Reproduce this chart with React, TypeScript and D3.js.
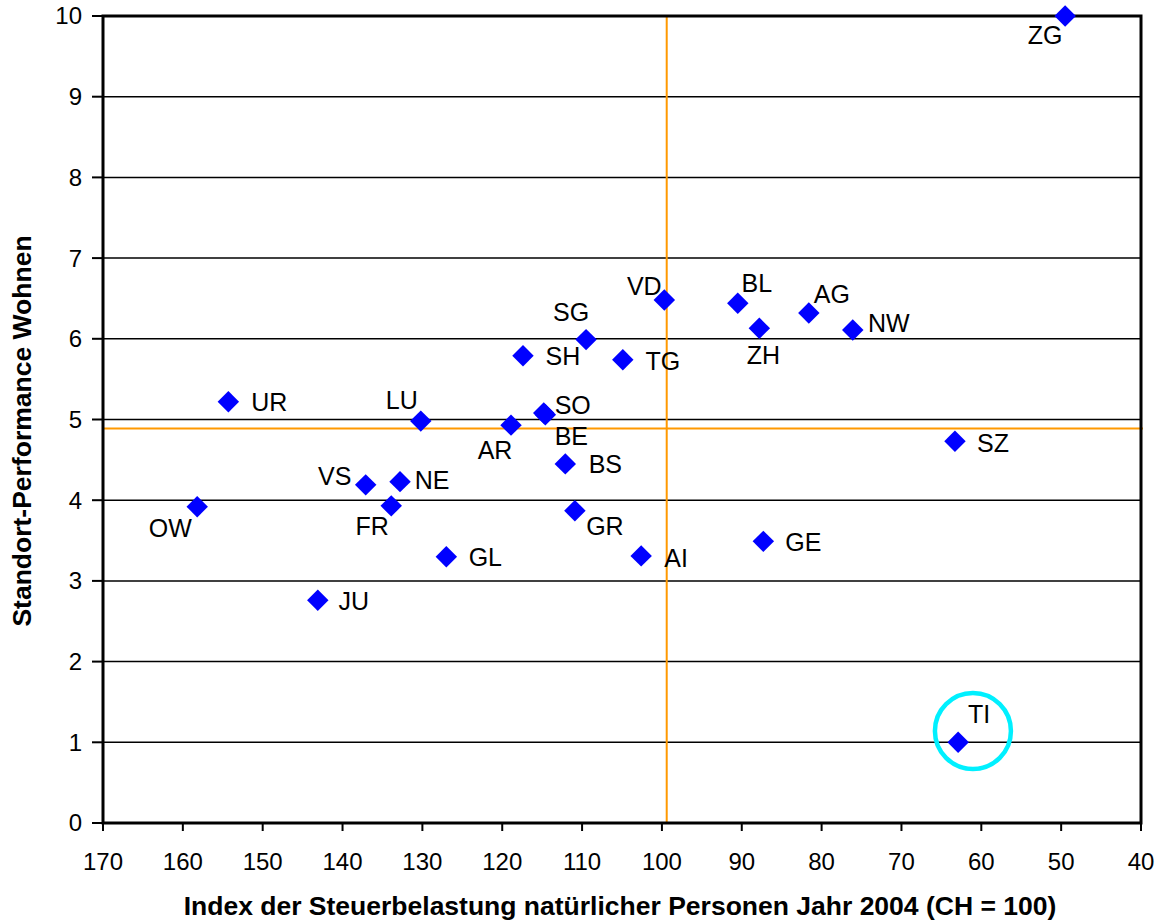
import React from "react";
import * as d3 from "d3";

const cantons = ["ZG","TI","SZ","NW","AG","BL","ZH","GE","VD","TG","AI","SG","SH","SO","BE","AR","BS","GR","LU","UR","VS","NE","FR","OW","GL","JU"];
const taxIndex = [49.5,62.9,63.3,76.1,81.6,90.5,87.8,87.3,99.7,104.9,102.6,109.5,117.4,114.8,114.6,118.9,112.1,110.9,130.2,154.3,137.1,132.8,133.9,158.2,127.0,143.1];
const performance = [10.0,1.0,4.73,6.11,6.32,6.44,6.13,3.49,6.48,5.74,3.31,5.99,5.79,5.08,5.06,4.93,4.45,3.87,4.98,5.22,4.19,4.23,3.93,3.92,3.30,2.76];
// label offsets (px) relative to the marker
const labelDx = [-20,21,38,36,23,19,4,40,-20,40,35,-15,40,29,26,-16,40,30,-19,41,-31,32,-19,-27,39,36];
const labelDy = [19,-28,2,-7,-19,-20,27,1,-14,1,2,-28,0,-8,21,25,0,15,-21,0,-9,-2,20,21,0,1];

const xTicks = [170,160,150,140,130,120,110,100,90,80,70,60,50,40];
const yTicks = [0,1,2,3,4,5,6,7,8,9,10];
const meanX = 99.4;
const meanY = 4.89;
const highlight = { x: 61.05, y: 1.14 };

const W = 1158, H = 921;
const L = 103, R = 1141, T = 16, B = 823;

export default function App() {
  const x = d3.scaleLinear().domain([170, 40]).range([L, R]);
  const y = d3.scaleLinear().domain([0, 10]).range([B, T]);
  const font = "Arial, 'Liberation Sans', Helvetica, sans-serif";
  const diamond = d3.symbol().type(d3.symbolSquare).size(230)();
  return (
    <svg width={W} height={H} style={{ position: "absolute", left: 0, top: 0, background: "#fff" }} fontFamily={font}>
      <rect x={0} y={0} width={W} height={H} fill="#fff" />
      {yTicks.filter(t => t > 0 && t < 10).map(t => (
        <line key={"g" + t} x1={L} x2={R} y1={y(t)} y2={y(t)} stroke="#000" strokeWidth={1.5} />
      ))}
      <line x1={x(meanX)} x2={x(meanX)} y1={T} y2={B} stroke="#FF9900" strokeWidth={2} />
      <line x1={L} x2={R + 2} y1={y(meanY)} y2={y(meanY)} stroke="#FF9900" strokeWidth={2} />
      <rect x={L} y={T} width={R - L} height={B - T} fill="none" stroke="#000" strokeWidth={3} />
      {yTicks.map(t => (
        <g key={"yt" + t}>
          <line x1={L - 11} x2={L} y1={y(t)} y2={y(t)} stroke="#000" strokeWidth={2} />
          <text x={82} y={y(t)} dy="0.35em" textAnchor="end" fontSize={24} fill="#000">{t}</text>
        </g>
      ))}
      {xTicks.map(t => (
        <g key={"xt" + t}>
          <line x1={x(t)} x2={x(t)} y1={B} y2={B + 8} stroke="#000" strokeWidth={2} />
          <text x={x(t)} y={862} dy="0.35em" textAnchor="middle" fontSize={24} fill="#000">{t}</text>
        </g>
      ))}
      {cantons.map((c, i) => (
        <g key={c}>
          <path d={diamond} transform={`translate(${x(taxIndex[i])},${y(performance[i])}) rotate(45)`} fill="#0000FF" />
        </g>
      ))}
      {cantons.map((c, i) => (
        <text key={"l" + c} x={x(taxIndex[i]) + labelDx[i]} y={y(performance[i]) + labelDy[i]} dy="0.36em" textAnchor="middle" fontSize={25} fill="#000">{c}</text>
      ))}
      <circle cx={x(highlight.x)} cy={y(highlight.y)} r={38} fill="none" stroke="#00F0FF" strokeWidth={4.5} />
      <text x={620} y={915} textAnchor="middle" fontSize={26.5} fontWeight="bold" fill="#000">Index der Steuerbelastung natürlicher Personen Jahr 2004 (CH = 100)</text>
      <text transform={`translate(31,431) rotate(-90)`} textAnchor="middle" fontSize={26.5} fontWeight="bold" fill="#000">Standort-Performance Wohnen</text>
    </svg>
  );
}
